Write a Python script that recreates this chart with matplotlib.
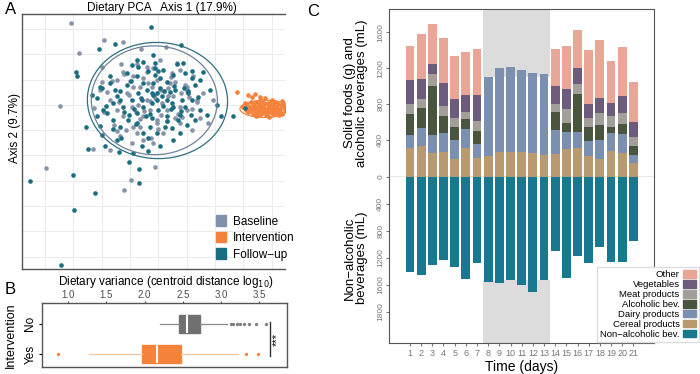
import numpy as np
import matplotlib
matplotlib.use("Agg")
import matplotlib.pyplot as plt
import matplotlib.patches as mpatches
from matplotlib.patches import Ellipse

plt.rcParams['font.family'] = ['Liberation Sans', 'DejaVu Sans']

# ---------------- data: panel A (PCA scores) ----------------
base_x = [-2.09, -0.91, -0.26, -1.79, -1.00, -2.47, -2.98, -0.21, 0.02, 0.88, 1.26, 0.40,
          -1.28, -0.71, -1.32, -0.24, -0.99, 2.47, 2.76, 2.35, 1.76, 0.12, 0.24, 1.06,
          0.94, 0.76, 0.59, 1.29, 1.53, 2.00, 2.18, -0.47, -0.12, -0.71, 0.35, 1.06,
          1.41, 1.76, 0.47, 0.94, 0.06, -0.35, 0.35, 0.71, 1.76, 2.24, 2.59, 0.12,
          0.59, 1.65, -0.47, -1.06, 1.18, 1.35, 1.12, 0.88, 0.65, 0.06, -0.24, 2.00,
          2.94, 1.59, 0.82, 0.47,
          -0.80, -0.55, -0.30, -0.05, 0.20, 0.45, 0.70, 0.95, 1.20, 1.45, 1.70, 1.95,
          2.20, -0.65, -0.40, -0.15, 0.10, 0.35, 0.60, 0.85, 1.10, 1.35, 1.60, 1.85,
          2.10, 2.35, -0.90, -0.20, 0.30, 0.80, 1.30, 1.80, 0.00, 0.50, 1.00, 1.50,
          2.00, -0.45, 0.25, 0.75]
base_y = [3.22, 2.57, 2.50, 2.04, 1.51, -0.03, -2.50, -3.36, -2.96, -2.47, 2.30, 2.20,
          -0.11, -1.80, -1.74, 1.29, 0.89, -0.53, -0.72, 0.20, -0.07, -0.86, -1.12, 1.78,
          0.99, 0.72, 0.20, -0.20, 0.33, 0.72, -0.99, -0.20, 0.46, 0.20, 0.72, 0.59,
          0.86, 1.38, -0.46, -0.59, -1.51, -1.25, -0.86, -0.20, -0.72, 1.12, 0.46, 1.12,
          1.51, 1.64, 0.99, 0.59, -1.12, 0.33, 0.07, 0.26, 0.86, -0.07, -0.46, -0.20,
          0.20, -0.53, -1.51, -1.38,
          0.50, -0.80, 1.60, 0.40, -0.30, 1.05, 0.15, -0.70, 0.55, 1.10, -0.35, 0.80,
          -0.15, 0.95, 0.10, -1.00, 0.70, -0.55, 1.30, 0.35, -0.40, 0.65, 0.90, -0.50,
          0.30, 0.10, -0.30, 1.20, 0.00, 1.45, -0.65, 0.45, 0.95, -0.25, -0.95, 1.25,
          0.55, -1.05, 1.60, -1.30]

follow_x = [0.73, -0.52, -1.08, -1.91, -1.88, -1.07, -3.52, -2.01, -1.98, -1.22, -2.45, 0.33,
            0.32, -0.05, -1.49, -0.88, -1.56, -0.39, -1.07, 1.80, 2.59, 3.20, 3.64, 0.24,
            0.88, 1.18, 1.88, 2.18, -0.71, -1.00, -1.18, -0.59, -0.24, 0.06, 0.29, 0.59,
            0.82, 0.88, 1.00, 1.29, 1.59, 1.82, 1.94, 2.18, 2.47, 2.82, 3.06, 1.53,
            1.29, 1.00, 0.76, 0.47, 0.24, -0.06, -0.35, -0.59, -0.82, 0.47, 0.71, 0.94,
            1.24, 1.47, 1.76, 2.00, 2.29, 1.53, 1.06, 0.41, 0.12, 0.65, -0.47, -1.00,
            -0.12, 0.24, 0.65, 1.53, 0.06, 0.82, 0.47, 0.76, 1.12, 1.29, 1.47, 1.06,
            0.94, 0.41, -0.35, -0.53, 2.47, 2.71, -0.94, -1.18, -1.35, 0.76, 0.24, 1.76,
            2.06, 4.06,
            -0.70, -0.45, -0.20, 0.05, 0.30, 0.55, 0.80, 1.05, 1.30, 1.55, 1.80, 2.05,
            2.30, -0.85, -0.60, -0.35, -0.10, 0.15, 0.40, 0.65, 0.90, 1.15, 1.40, 1.65,
            1.90, 2.15, 2.40, -0.30, 0.20, 0.70, 1.20, 1.70, 2.20, -0.05, 0.45, 0.95,
            1.45, 1.95]
follow_y = [3.07, 2.41, 2.20, 1.30, 1.12, 0.70, -3.03, -2.79, -4.17, -3.49, -6.32, -3.09,
            -2.53, -2.26, -1.74, -1.61, -0.86, -1.87, -0.82, 2.37, 1.29, -0.45, -0.45, 1.78,
            1.64, 1.38, 1.64, 1.32, 0.88, 0.66, 0.26, 0.07, -0.07, 0.20, 0.46, 0.59,
            0.86, 1.18, 1.32, 0.92, 0.59, 0.20, -0.07, 0.20, 0.99, 0.59, 0.00, -0.07,
            -0.46, -0.20, 0.07, -0.07, -0.33, -0.59, -0.86, -0.59, -0.33, -1.12, -0.86, -1.12,
            -0.86, -0.92, -1.12, -0.79, -0.59, -1.38, -1.64, -1.64, -1.91, -1.84, -1.38, -1.18,
            0.79, 1.12, 1.32, 1.18, 1.58, 1.97, 0.86, 0.46, 0.33, 0.20, 0.07, 0.66,
            0.20, 0.20, 0.20, 0.59, -0.20, -0.39, -0.20, -0.46, 0.39, -0.53, -0.72, -0.39,
            0.53, -0.12,
            1.15, 0.35, -0.30, 0.95, 1.50, -0.45, 0.40, 1.05, -0.65, 0.75, -0.25, 0.45,
            0.80, -0.05, -0.95, 0.55, 1.25, -0.15, 0.25, -1.30, 1.45, -0.05, 0.50, 1.60,
            0.65, -0.40, 0.30, -1.30, -0.75, -0.35, 0.55, -0.60, 1.05, -0.40, 1.70, 0.45,
            -0.15, 1.25]

inter_x = [3.78, 4.17, 4.42, 4.59, 4.30, 4.75,
           4.00, 4.08, 4.12, 4.18, 4.22, 4.27, 4.30, 4.35, 4.38, 4.42, 4.46, 4.50, 4.53, 4.57,
           4.60, 4.63, 4.67, 4.70, 4.73, 4.76, 4.80, 4.83, 4.86, 4.90, 4.93, 4.96, 5.00, 5.03,
           5.06, 5.10, 5.13, 5.17, 5.20, 5.24, 5.28, 5.32, 5.36, 5.40, 5.44, 5.48,
           4.15, 4.25, 4.33, 4.40, 4.48, 4.55, 4.62, 4.66, 4.72, 4.78, 4.85, 4.88, 4.95, 4.98,
           5.05, 5.08, 5.15, 5.22, 5.30, 5.35, 5.42, 4.45, 4.90, 5.25, 4.05, 4.58, 5.02]
inter_y = [0.51, 0.40, 0.43, 0.32, 0.30, 0.28,
           -0.10, -0.22, 0.02, -0.30, -0.08, 0.10, -0.18, -0.35, 0.00, -0.25, 0.12, -0.10, -0.40, 0.05,
           -0.22, -0.05, 0.15, -0.30, -0.12, 0.02, -0.42, -0.20, 0.08, -0.05, -0.28, 0.12, -0.15, -0.38,
           0.00, -0.22, 0.10, -0.08, -0.30, 0.05, -0.18, -0.02, -0.35, 0.08, -0.12, -0.25,
           -0.12, -0.25, 0.05, -0.12, -0.30, -0.18, -0.35, -0.15, 0.08, -0.25, -0.35, -0.12, -0.18, 0.02,
           -0.28, -0.10, -0.32, -0.15, -0.28, 0.15, -0.05, -0.45, -0.48, -0.42, 0.08, 0.20, 0.18]

# ---------------- data: panel B (centroid distance summary) ----------------
groups_b = ["Yes", "No"]
q1_b = [1.97, 2.45]
med_b = [2.16, 2.55]
q3_b = [2.48, 2.72]
whislo_b = [1.28, 2.20]
whishi_b = [3.22, 3.07]
fliers_yes = [0.87, 3.33, 3.48]
fliers_no = [3.13, 3.15, 3.21, 3.25, 3.30, 3.36, 3.45, 3.58]

# ---------------- data: panel C (daily intake) ----------------
days = np.arange(1, 22)
cereal = [314, 333, 259, 266, 192, 314, 207, 222, 277, 277, 273, 259, 240,
          251, 307, 314, 229, 192, 288, 259, 155]
dairy = [148, 203, 203, 214, 214, 211, 155, 886, 924, 935, 902, 886, 898,
         266, 181, 174, 166, 207, 192, 210, 85]
alcohol = [229, 221, 543, 192, 148, 111, 144, 0, 0, 0, 0, 0, 0,
           203, 103, 428, 148, 170, 74, 115, 100]
meat = [114, 100, 133, 111, 93, 84, 104, 0, 0, 0, 0, 0, 0,
        85, 155, 108, 104, 140, 111, 125, 103]
veg = [267, 222, 111, 252, 210, 185, 295, 0, 0, 0, 0, 0, 0,
       200, 222, 177, 158, 159, 148, 185, 159]
other = [369, 502, 443, 498, 481, 473, 506, 0, 0, 0, 0, 0, 0,
         406, 480, 417, 599, 640, 469, 540, 440]
nonalc = [1412, 1461, 1304, 1240, 1338, 1515, 1274, 1555, 1569, 1530, 1609, 1707, 1530,
          1107, 1500, 1171, 1284, 1038, 1260, 1255, 959]

W, H = 700, 374
fig = plt.figure(figsize=(7.0, 3.74), dpi=100)


def box(l, t, r, b):
    return [l / W, 1 - b / H, (r - l) / W, (b - t) / H]


C_BASE = "#8693A8"
C_FOLLOW = "#1B6D81"
C_INTER = "#F5823A"
SPINE = "#555555"

# ================= panel A =================
axA = fig.add_axes(box(22, 14, 285, 269))
axA.set_xlim(-3.81, 5.47)
axA.set_ylim(-6.49, 3.59)
for v in range(-3, 6):
    axA.axvline(v, color="#EBEBEB", lw=0.7, zorder=0)
for v in range(-6, 4):
    axA.axhline(v, color="#EBEBEB", lw=0.7, zorder=0)
axA.scatter(base_x, base_y, s=11, color=C_BASE, lw=0, zorder=2)
axA.scatter(follow_x, follow_y, s=11, color=C_FOLLOW, lw=0, zorder=3)
axA.scatter(inter_x, inter_y, s=11, color=C_INTER, lw=0, zorder=2)
axA.add_patch(Ellipse((0.97, 0.17), 4.95, 4.59, angle=-5, fill=False,
                      ec="#2E6F80", lw=0.9, zorder=4))
axA.add_patch(Ellipse((0.86, 0.18), 4.45, 4.3, angle=-5, fill=False,
                      ec="#6F8296", lw=0.9, zorder=4))
axA.add_patch(Ellipse((4.78, -0.16), 1.8, 0.68, fill=False,
                      ec=C_INTER, lw=0.9, zorder=4))
axA.set_xticks([])
axA.set_yticks([])
for s in ["left", "top", "bottom"]:
    axA.spines[s].set_color(SPINE)
    axA.spines[s].set_linewidth(1.0)
axA.spines["right"].set_visible(False)
leg_a = [mpatches.Patch(color="#8091AB", label="Baseline"),
         mpatches.Patch(color=C_INTER, label="Intervention"),
         mpatches.Patch(color=C_FOLLOW, label="Follow\u2212up")]
axA.legend(handles=leg_a, loc="upper left", bbox_to_anchor=(208 / W, 1 - 207 / H),
           bbox_transform=fig.transFigure, frameon=False, fontsize=8.5,
           handlelength=0.8, handleheight=1.0, handletextpad=0.6, labelspacing=0.35,
           borderpad=0.2)
fig.text(162 / W, 1 - 8 / H, "Dietary PCA   Axis 1 (17.9%)", ha="center", va="center", fontsize=8.5)
fig.text(15 / W, 1 - 128 / H, "Axis 2 (9.7%)", ha="center", va="center", rotation=90, fontsize=8.5)
fig.text(11 / W, 1 - 9 / H, "A", ha="center", va="center", fontsize=12)

# ================= panel B =================
axB = fig.add_axes(box(42, 303, 287, 367))
stats = []
for i, g in enumerate(groups_b):
    stats.append(dict(label=g, q1=q1_b[i], med=med_b[i], q3=q3_b[i],
                      whislo=whislo_b[i], whishi=whishi_b[i],
                      fliers=fliers_yes if g == "Yes" else fliers_no))
bp = axB.bxp(stats, positions=[0, 1], vert=False, widths=0.58, patch_artist=True,
             showcaps=False)
box_cols = [C_INTER, "#707070"]
whisk_cols = ["#F2C7A2", "#8A8A8A"]
for i in range(2):
    bp["boxes"][i].set_facecolor(box_cols[i])
    bp["boxes"][i].set_edgecolor(box_cols[i])
    bp["medians"][i].set_color("white")
    bp["medians"][i].set_linewidth(1.5)
    bp["fliers"][i].set_marker("o")
    bp["fliers"][i].set_markersize(2.4)
    bp["fliers"][i].set_markerfacecolor(box_cols[i] if i == 0 else "#808080")
    bp["fliers"][i].set_markeredgewidth(0)
for j, w in enumerate(bp["whiskers"]):
    w.set_color(whisk_cols[j // 2])
    w.set_linewidth(0.9)
axB.set_xlim(0.66, 3.86)
axB.set_ylim(-0.42, 1.68)
axB.xaxis.tick_top()
axB.set_xticks([1.0, 1.5, 2.0, 2.5, 3.0, 3.5])
axB.set_xticklabels(["1.0", "1.5", "2.0", "2.5", "3.0", "3.5"])
axB.tick_params(axis="x", labelsize=7, colors="#4D4D4D", length=1.5, pad=0.5)
axB.set_yticks([0, 1])
axB.set_yticklabels(["Yes", "No"], rotation=90, va="center")
axB.tick_params(axis="y", labelsize=8.5, length=2, pad=2)
for s in axB.spines.values():
    s.set_color(SPINE)
    s.set_linewidth(1.0)
axB.plot([3.64, 3.64], [-0.05, 1.05], color="#333333", lw=1.0)
axB.text(3.73, 0.5, "***", rotation=90, ha="center", va="center", fontsize=8)
fig.text(166 / W, 1 - 282 / H, "Dietary variance (centroid distance log$_{10}$)",
         ha="center", va="center", fontsize=8.5)
fig.text(11 / W, 1 - 335 / H, "Intervention", ha="center", va="center", rotation=90, fontsize=9)
fig.text(10 / W, 1 - 289 / H, "B", ha="center", va="center", fontsize=12)

# ================= panel C =================
cols = {"Other": "#E9A596", "Vegetables": "#6D5B7E", "Meat products": "#A29E99",
        "Alcoholic bev.": "#4A553F", "Dairy products": "#7B90B0",
        "Cereal products": "#B99A70", "Non\u2212alcoholic bev.": "#17788F"}
shade = "#DCDCDC"
bw = 0.8

axT = fig.add_axes(box(389, 9, 654, 176.5))
axL = fig.add_axes(box(389, 176.5, 654, 343))
top_lim = 1856
bot_lim = 2458

axT.axvspan(7.5, 13.5, ymin=1100 / top_lim, ymax=1, color=shade, lw=0, zorder=0)
bottom = np.zeros(len(days))
for name, vals in [("Cereal products", cereal), ("Dairy products", dairy),
                   ("Alcoholic bev.", alcohol), ("Meat products", meat),
                   ("Vegetables", veg), ("Other", other)]:
    axT.bar(days, vals, bottom=bottom, width=bw, color=cols[name], lw=0, zorder=2)
    bottom = bottom + np.array(vals)
axT.axhline(0, color="#8C8C8C", lw=1.0, zorder=3)
axT.set_xlim(-0.88, 22.85)
axT.set_ylim(0, top_lim)
axT.set_yticks([0, 400, 800, 1200, 1600])
axT.set_xticks([])
axT.tick_params(axis="y", labelsize=6, colors="#777777", length=2, pad=1.5)
for lab in axT.get_yticklabels():
    lab.set_rotation(90)
    lab.set_va("center")
for s in ["left", "top", "right"]:
    axT.spines[s].set_color(SPINE)
axT.spines["bottom"].set_visible(False)

axL.axvspan(7.5, 13.5, ymin=0, ymax=1 - 1530 / bot_lim, color=shade, lw=0, zorder=0)
axL.bar(days, nonalc, width=bw, color=cols["Non\u2212alcoholic bev."], lw=0, zorder=2)
axL.set_xlim(-0.88, 22.85)
axL.set_ylim(bot_lim, 0)
axL.set_yticks([400, 800, 1200, 1600, 2000])
axL.set_yticklabels(["400", "800", "1200", "1600", "1800"], rotation=90, va="center")
axL.tick_params(axis="y", labelsize=6, colors="#777777", length=2, pad=1.5)
axL.set_xticks(days)
axL.set_xticklabels([str(d) for d in days])
axL.tick_params(axis="x", labelsize=6.5, colors="#777777", length=2.5, pad=2)
for s in ["left", "bottom", "right"]:
    axL.spines[s].set_color(SPINE)
axL.spines["top"].set_visible(False)
axL.set_xlabel("Time (days)", fontsize=10, labelpad=1)

fig.text(356 / W, 1 - 93 / H, "Solid foods (g) and\nalcoholic beverages (mL)", ha="center",
         va="center", rotation=90, fontsize=9.5, linespacing=1.1)
fig.text(356 / W, 1 - 258 / H, "Non\u2212alcoholic\nbeverages (mL)", ha="center",
         va="center", rotation=90, fontsize=9.5, linespacing=1.1)
fig.text(313 / W, 1 - 11 / H, "C", ha="center", va="center", fontsize=12)

leg_c = [mpatches.Patch(color=c, label=n) for n, c in cols.items()]
fig.legend(handles=leg_c, loc="lower right", bbox_to_anchor=(699 / W, 1 - 342 / H),
           fontsize=6.8, markerfirst=False, frameon=True, fancybox=False,
           edgecolor="#DDDDDD", framealpha=1, handlelength=1.3, handleheight=0.9,
           handletextpad=0.4, labelspacing=0.08, borderpad=0.35, borderaxespad=0)

fig.savefig("out.png", dpi=100)
